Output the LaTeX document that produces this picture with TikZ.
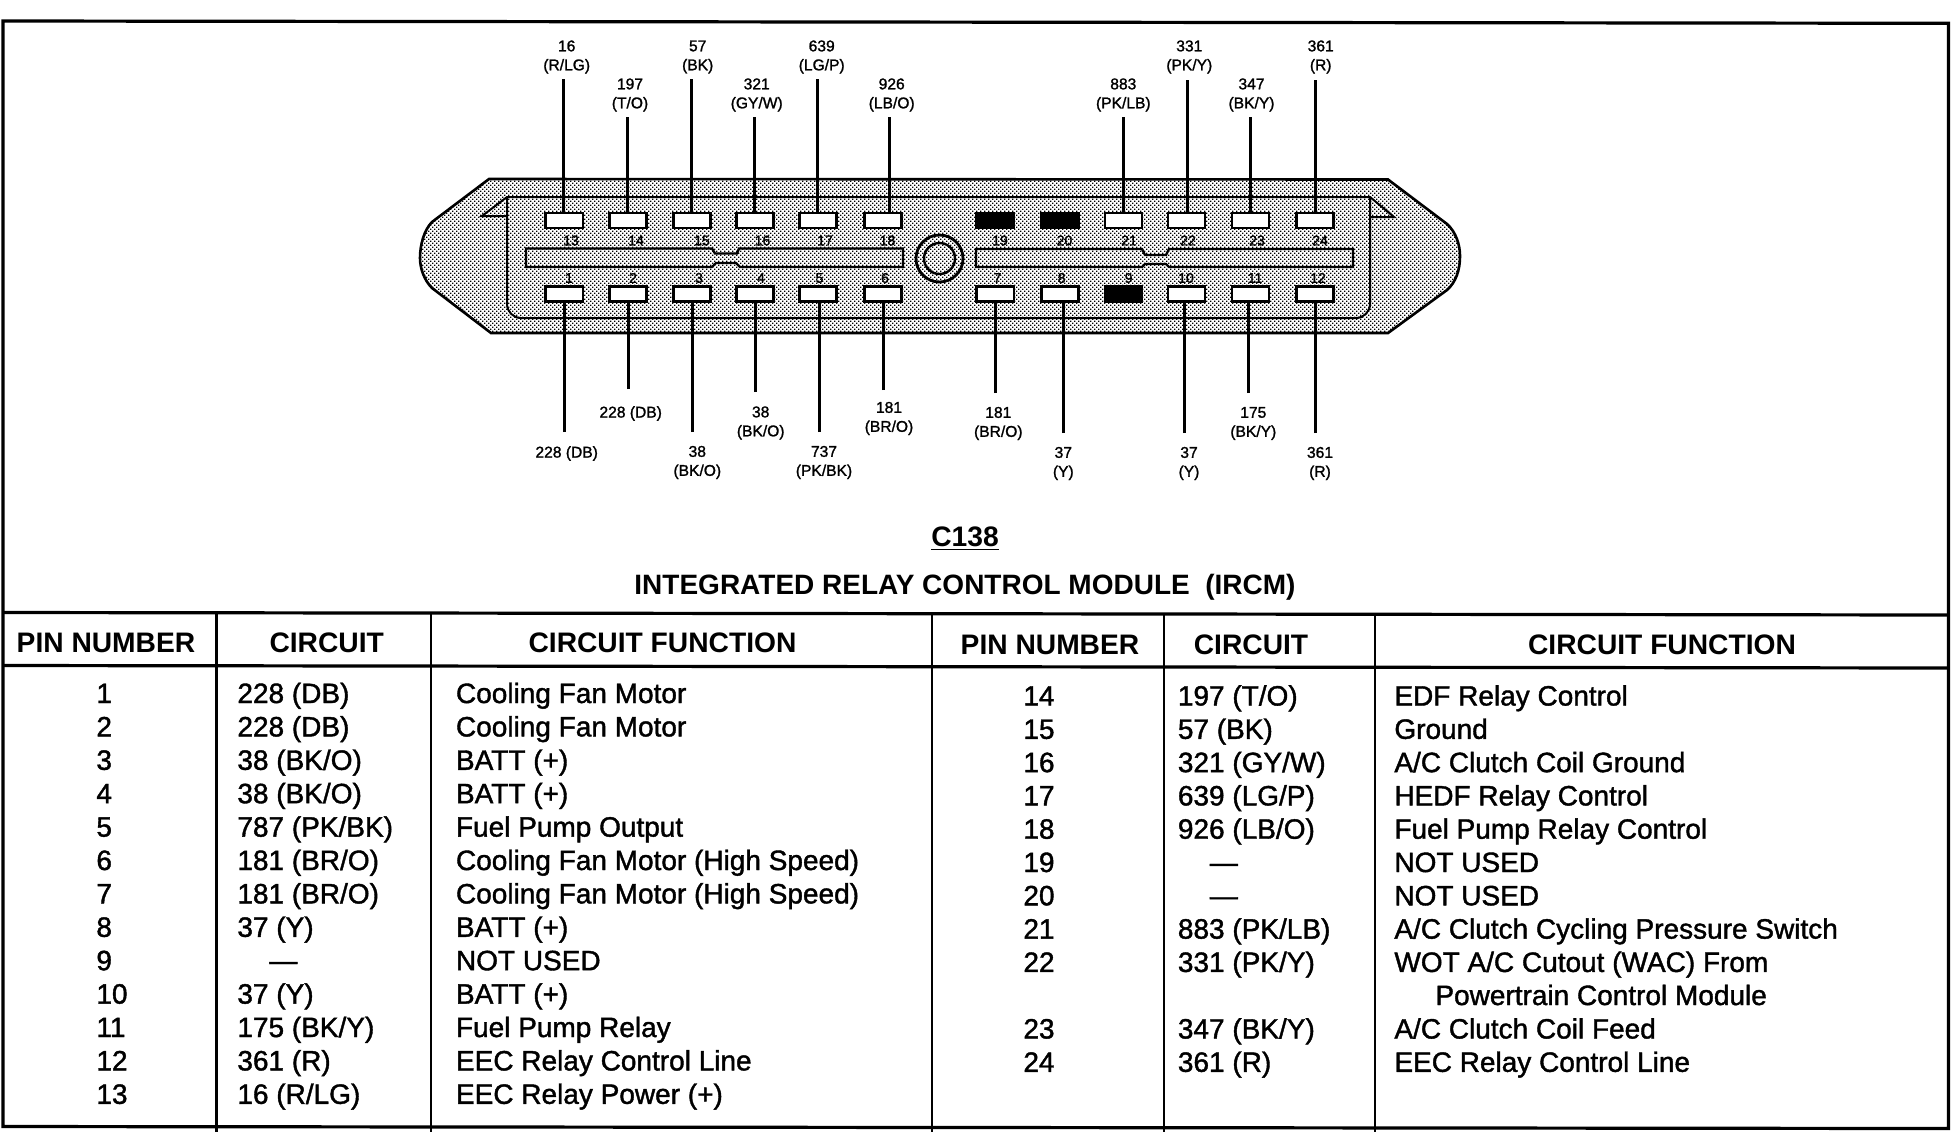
\documentclass[tikz,border=0pt]{standalone}
\usepackage{fontspec}
\setmainfont{Liberation Sans}
\newfontfamily\ircmfont[FakeBold=1.4]{Liberation Sans}
\usetikzlibrary{patterns}
\pgfdeclarepatternformonly{ircmdots}{\pgfqpoint{-.1pt}{-.1pt}}{\pgfqpoint{2.1pt}{2.1pt}}{\pgfqpoint{2pt}{2pt}}{%
  \pgfpathrectangle{\pgfqpoint{0pt}{0pt}}{\pgfqpoint{.7pt}{.7pt}}%
  \pgfpathrectangle{\pgfqpoint{1pt}{1pt}}{\pgfqpoint{.7pt}{.7pt}}%
  \pgfusepath{fill}}
\tikzset{
  rulebar/.style={line width=1.6pt},
  colbar/.style={line width=1.2pt},
  pinbox/.style={draw,fill=white,line width=1.25pt,minimum width=18.7pt,minimum height=7.6pt,inner sep=0pt},
  deadpin/.style={draw,fill=black,line width=1.25pt,minimum width=18.7pt,minimum height=7.6pt,inner sep=0pt},
  pinnum/.style={inner sep=0pt,font=\ircmfont\fontsize{7}{8}\selectfont},
  wire/.style={line width=1.5pt},
  wirelabel/.style={inner sep=0pt,align=center,font=\ircmfont\fontsize{7.8}{9.5}\selectfont},
  headcell/.style={inner sep=0pt,anchor=base,font=\bfseries\fontsize{14.1}{16}\selectfont},
  rowcell/.style={inner sep=0pt,anchor=base west,font=\ircmfont\fontsize{14}{16}\selectfont},
}
\begin{document}
\begin{tikzpicture}[x=.5pt,y=-.5pt]
  \useasboundingbox (0,0) rectangle (1952,1136);
  % ------ frame and table rules -------------------
  \draw [rulebar] (3,1126.5) -- (3,21) -- (1948.5,23.3) -- (1948.5,1128.5) -- cycle;
  \draw [rulebar] (3,612.5) -- (1948.5,615);
  \draw [rulebar] (3,665.5) -- (1948.5,668);
  \foreach \colx in {216.5,431,932,1164,1375}
    \draw [colbar] (\colx,613) -- (\colx,1132);
  % ------ connector body -------------------
  \draw [pattern=ircmdots,line width=1.3pt] (489,179) -- (1388,179.5) -- (1447,224)
    .. controls (1456,232) and (1460,245) .. (1460,256)
    .. controls (1460,270) and (1456,282) .. (1447,290)
    -- (1388,333) -- (491,333) -- (432,288)
    .. controls (424,280) and (420,268) .. (420,258)
    .. controls (420,245) and (424,230) .. (432,222) -- cycle;
  \draw [line width=1pt] (507,216) -- (482,216) -- (507,197) -- (1370,197) -- (1394,217) -- (1370,217);
  \draw [line width=1pt,rounded corners=7pt] (1370,197) -- (1370,318) -- (507,318) -- (507,197);
  % key slots
  \draw [line width=1.2pt] (526,248.5) -- (712,248.5) -- (715,253.5) -- (737,253.5) -- (739,248.5)
    -- (903,248.5) -- (903,267) -- (740,267) -- (736,263) -- (716,263) -- (712,267) -- (526,267) -- cycle;
  \draw [line width=1.2pt] (976,249) -- (1142,249) -- (1145,255) -- (1166,255) -- (1169,249)
    -- (1353,249) -- (1353,267) -- (1169,267) -- (1166,264) -- (1145,264) -- (1142,267) -- (976,267) -- cycle;
  % centre bolt
  \draw [line width=1.4pt] (939.5,258.5) circle [radius=23.5];
  \draw [line width=1.2pt] (939.5,258.5) circle [radius=15.5];
  % ------ pins -------------------
  \foreach \pinid/\pinx/\numx in {13/564.3/571,14/628/636,15/692/702,16/755/762.5,17/818/825,18/883/887.5,21/1123.5/1129,22/1186.5/1188,23/1250.5/1257,24/1315/1320}
    {\node [pinbox] (p\pinid) at (\pinx,220.5) {};
     \node [pinnum] (n\pinid) at (\numx,240.5) {\pinid};}
  \foreach \pinid/\pinx/\numx in {19/995.3/1000,20/1060/1064.5}
    {\node [deadpin] (p\pinid) at (\pinx,220.5) {};
     \node [pinnum] (n\pinid) at (\numx,240.5) {\pinid};}
  \foreach \pinid/\pinx/\numx in {1/564.3/569,2/628/633,3/692/699,4/755/761,5/818/819.5,6/883/885,7/995.3/997.3,8/1060/1061.7,10/1186.5/1186,11/1250.5/1255,12/1315/1318}
    {\node [pinbox] (p\pinid) at (\pinx,294) {};
     \node [pinnum] (n\pinid) at (\numx,278) {\pinid};}
  \node [deadpin] (p9) at (1123.5,294) {};
  \node [pinnum] (n9) at (1128.6,278) {9};
  % ------ leaders, top row -------------------
  \foreach \pinid/\endx/\endy in {13/563.5/79,14/627.5/117,15/691.5/79,16/754.5/117,17/817.3/79,18/889/117,21/1123.3/117,22/1187.3/80,23/1250/117,24/1315/80}
    {\coordinate (w\pinid) at (\endx,\endy);
     \draw [wire] (w\pinid) -- (w\pinid |- p\pinid.north);}
  % ------ leaders, bottom row -------------------
  \foreach \pinid/\endx/\endy in {1/564/432,2/628/389,3/692/432,4/755/392,5/819.3/432,6/883.5/390,7/995.8/393,8/1063.3/433,10/1184.3/433,11/1248.3/393,12/1315.8/433}
    {\coordinate (w\pinid) at (\endx,\endy);
     \draw [wire] (w\pinid) -- (w\pinid |- p\pinid.south);}
  % ------ wire labels -------------------
  \node [wirelabel] (l13) at (566.7,57) {16\\(R/LG)};
  \node [wirelabel] (l14) at (630,95) {197\\(T/O)};
  \node [wirelabel] (l15) at (697.7,57) {57\\(BK)};
  \node [wirelabel] (l16) at (756.7,95) {321\\(GY/W)};
  \node [wirelabel] (l17) at (821.7,57) {639\\(LG/P)};
  \node [wirelabel] (l18) at (891.7,95) {926\\(LB/O)};
  \node [wirelabel] (l21) at (1123.3,95) {883\\(PK/LB)};
  \node [wirelabel] (l22) at (1189.3,57) {331\\(PK/Y)};
  \node [wirelabel] (l23) at (1251.5,95) {347\\(BK/Y)};
  \node [wirelabel] (l24) at (1320.7,57) {361\\(R)};
  \node [wirelabel] (l1) at (566.7,453.5) {228 (DB)};
  \node [wirelabel] (l2) at (630.7,413.5) {228 (DB)};
  \node [wirelabel] (l3) at (697.3,462.5) {38\\(BK/O)};
  \node [wirelabel] (l4) at (760.7,423) {38\\(BK/O)};
  \node [wirelabel] (l5) at (824,462.5) {737\\(PK/BK)};
  \node [wirelabel] (l6) at (889,418.5) {181\\(BR/O)};
  \node [wirelabel] (l7) at (998.3,423.5) {181\\(BR/O)};
  \node [wirelabel] (l8) at (1063.3,463.5) {37\\(Y)};
  \node [wirelabel] (l10) at (1189,463.5) {37\\(Y)};
  \node [wirelabel] (l11) at (1253.3,423.5) {175\\(BK/Y)};
  \node [wirelabel] (l12) at (1320,463.5) {361\\(R)};
  % ------ titles -------------------
  \node [inner sep=0pt,font=\bfseries\fontsize{14.1}{16}\selectfont] (conn) at (965,539) {\underline{C138}};
  \node [inner sep=0pt,font=\bfseries\fontsize{14}{16}\selectfont] (title) at (965,587) {INTEGRATED RELAY CONTROL MODULE\ \ (IRCM)};
  % ------ table heads -------------------
  \node [headcell] (hpin) at (106,652) {PIN NUMBER};
  \node [headcell] (hcirc) at (326.7,652) {CIRCUIT};
  \node [headcell] (hfunc) at (662.5,652) {CIRCUIT FUNCTION};
  \node [headcell] (hpinb) at (1050,654) {PIN NUMBER};
  \node [headcell] (hcircb) at (1251,654) {CIRCUIT};
  \node [headcell] (hfuncb) at (1662,654) {CIRCUIT FUNCTION};
  % ------ table rows, pins 1 to 13 -------------------
  \foreach \pinid/\circ/\func [count=\rowi from 0] in {
      1/{228 (DB)}/{Cooling Fan Motor},
      2/{228 (DB)}/{Cooling Fan Motor},
      3/{38 (BK/O)}/{BATT (+)},
      4/{38 (BK/O)}/{BATT (+)},
      5/{787 (PK/BK)}/{Fuel Pump Output},
      6/{181 (BR/O)}/{Cooling Fan Motor (High Speed)},
      7/{181 (BR/O)}/{Cooling Fan Motor (High Speed)},
      8/{37 (Y)}/{BATT (+)},
      9/{\hspace*{16pt}—}/{NOT USED},
      10/{37 (Y)}/{BATT (+)},
      11/{175 (BK/Y)}/{Fuel Pump Relay},
      12/{361 (R)}/{EEC Relay Control Line},
      13/{16 (R/LG)}/{EEC Relay Power (+)}}
    {\pgfmathsetmacro{\rowy}{703+33.4*\rowi}
     \node [rowcell] (tp\pinid) at (96,\rowy) {\pinid};
     \node [rowcell] (tc\pinid) at (237,\rowy) {\circ};
     \node [rowcell] (tf\pinid) at (455.6,\rowy) {\func};}
  % ------ table rows, pins 14 to 24 -------------------
  \foreach \pinid/\circ/\func/\rowi in {
      14/{197 (T/O)}/{EDF Relay Control}/0,
      15/{57 (BK)}/{Ground}/1,
      16/{321 (GY/W)}/{A/C Clutch Coil Ground}/2,
      17/{639 (LG/P)}/{HEDF Relay Control}/3,
      18/{926 (LB/O)}/{Fuel Pump Relay Control}/4,
      19/{\hspace*{16pt}—}/{NOT USED}/5,
      20/{\hspace*{16pt}—}/{NOT USED}/6,
      21/{883 (PK/LB)}/{A/C Clutch Cycling Pressure Switch}/7,
      22/{331 (PK/Y)}/{WOT A/C Cutout (WAC) From}/8,
      23/{347 (BK/Y)}/{A/C Clutch Coil Feed}/10,
      24/{361 (R)}/{EEC Relay Control Line}/11}
    {\pgfmathsetmacro{\rowy}{705.5+33.3*\rowi}
     \node [rowcell] (tp\pinid) at (1023,\rowy) {\pinid};
     \node [rowcell] (tc\pinid) at (1177.5,\rowy) {\circ};
     \node [rowcell] (tf\pinid) at (1394,\rowy) {\func};}
  \node [rowcell] (tfmore) at (1435,1005) {Powertrain Control Module};
\end{tikzpicture}
\end{document}
